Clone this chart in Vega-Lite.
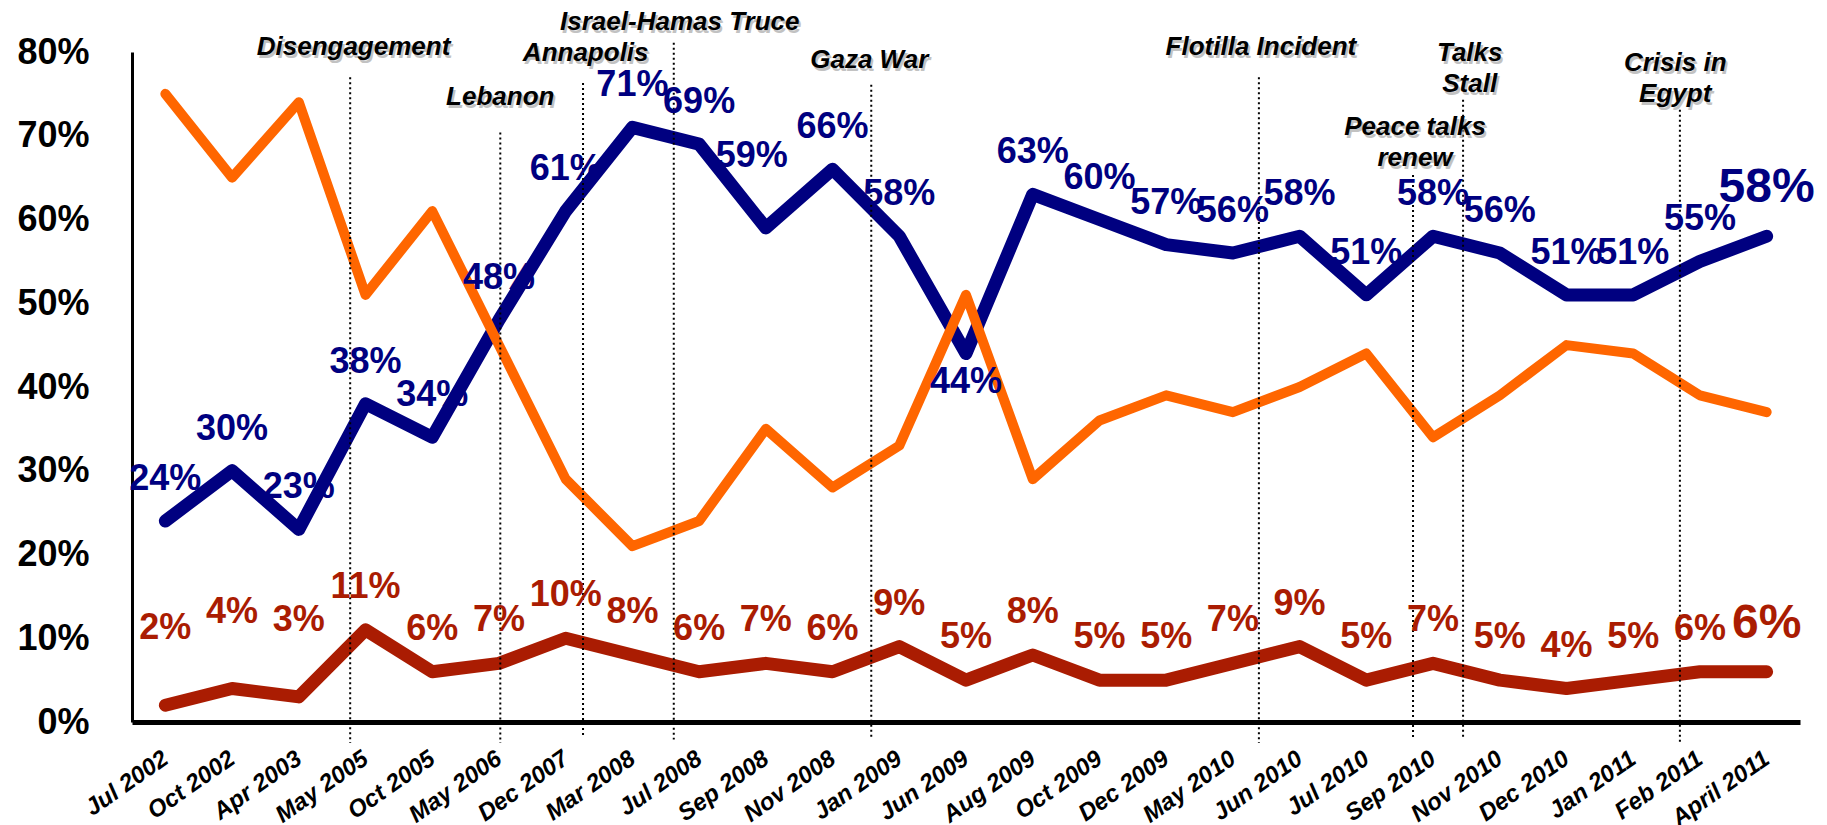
{
  "$schema": "https://vega.github.io/schema/vega-lite/v6.json",
  "width": 1668,
  "height": 670,
  "autosize": {"type": "none"},
  "padding": {"left": 132, "top": 52, "right": 27, "bottom": 103},
  "background": "white",
  "config": {
    "view": {"stroke": null},
    "font": "Liberation Sans",
    "axisY": {
      "labelFont": "Liberation Sans",
      "labelFontSize": 36,
      "labelFontWeight": "bold",
      "labelColor": "black",
      "labelPadding": 43,
      "ticks": false,
      "grid": false,
      "domain": true,
      "domainColor": "black",
      "domainWidth": 3
    }
  },
  "datasets": {
    "poll": [
      {"i": 0, "date": "Jul 2002", "support": 0.24, "oppose": 0.75, "dk": 0.02},
      {"i": 1, "date": "Oct 2002", "support": 0.30, "oppose": 0.65, "dk": 0.04},
      {"i": 2, "date": "Apr 2003", "support": 0.23, "oppose": 0.74, "dk": 0.03},
      {"i": 3, "date": "May 2005", "support": 0.38, "oppose": 0.51, "dk": 0.11},
      {"i": 4, "date": "Oct 2005", "support": 0.34, "oppose": 0.61, "dk": 0.06},
      {"i": 5, "date": "May 2006", "support": 0.48, "oppose": 0.45, "dk": 0.07},
      {"i": 6, "date": "Dec 2007", "support": 0.61, "oppose": 0.29, "dk": 0.10},
      {"i": 7, "date": "Mar 2008", "support": 0.71, "oppose": 0.21, "dk": 0.08},
      {"i": 8, "date": "Jul 2008", "support": 0.69, "oppose": 0.24, "dk": 0.06},
      {"i": 9, "date": "Sep 2008", "support": 0.59, "oppose": 0.35, "dk": 0.07},
      {"i": 10, "date": "Nov 2008", "support": 0.66, "oppose": 0.28, "dk": 0.06},
      {"i": 11, "date": "Jan 2009", "support": 0.58, "oppose": 0.33, "dk": 0.09},
      {"i": 12, "date": "Jun 2009", "support": 0.44, "oppose": 0.51, "dk": 0.05},
      {"i": 13, "date": "Aug 2009", "support": 0.63, "oppose": 0.29, "dk": 0.08},
      {"i": 14, "date": "Oct 2009", "support": 0.60, "oppose": 0.36, "dk": 0.05},
      {"i": 15, "date": "Dec 2009", "support": 0.57, "oppose": 0.39, "dk": 0.05},
      {"i": 16, "date": "May 2010", "support": 0.56, "oppose": 0.37, "dk": 0.07},
      {"i": 17, "date": "Jun 2010", "support": 0.58, "oppose": 0.40, "dk": 0.09},
      {"i": 18, "date": "Jul 2010", "support": 0.51, "oppose": 0.44, "dk": 0.05},
      {"i": 19, "date": "Sep 2010", "support": 0.58, "oppose": 0.34, "dk": 0.07},
      {"i": 20, "date": "Nov 2010", "support": 0.56, "oppose": 0.39, "dk": 0.05},
      {"i": 21, "date": "Dec 2010", "support": 0.51, "oppose": 0.45, "dk": 0.04},
      {"i": 22, "date": "Jan 2011", "support": 0.51, "oppose": 0.44, "dk": 0.05},
      {"i": 23, "date": "Feb 2011", "support": 0.55, "oppose": 0.39, "dk": 0.06},
      {"i": 24, "date": "April 2011", "support": 0.58, "oppose": 0.37, "dk": 0.06}
    ],
    "events": [
      {"event": "Disengagement", "i": 2.77, "top": 0.770, "bottom": -0.025},
      {"event": "Lebanon", "i": 5.02, "top": 0.704, "bottom": -0.025},
      {"event": "Annapolis", "i": 6.26, "top": 0.763, "bottom": -0.018},
      {"event": "Israel-Hamas Truce", "i": 7.62, "top": 0.811, "bottom": -0.021},
      {"event": "Gaza War", "i": 10.58, "top": 0.761, "bottom": -0.021},
      {"event": "Flotilla Incident", "i": 16.39, "top": 0.770, "bottom": -0.025},
      {"event": "Peace talks renew", "i": 18.70, "top": 0.653, "bottom": -0.020},
      {"event": "Talks Stall", "i": 19.45, "top": 0.743, "bottom": -0.018},
      {"event": "Crisis in Egypt", "i": 22.70, "top": 0.731, "bottom": -0.025}
    ],
    "notes": [
      {"note": "Disengagement", "i": 2.82, "v": 0.806},
      {"note": "Lebanon", "i": 5.02, "v": 0.746},
      {"note": "Israel-Hamas Truce", "i": 7.71, "v": 0.836},
      {"note": "Annapolis", "i": 6.30, "v": 0.799},
      {"note": "Gaza War", "i": 10.55, "v": 0.790},
      {"note": "Flotilla Incident", "i": 16.42, "v": 0.806},
      {"note": "Talks\nStall", "i": 19.55, "v": 0.799},
      {"note": "Peace talks\nrenew", "i": 18.73, "v": 0.710},
      {"note": "Crisis in\nEgypt", "i": 22.63, "v": 0.787}
    ]
  },
  "encoding": {
    "x": {
      "field": "i",
      "type": "quantitative",
      "scale": {"domain": [-0.5, 24.5], "nice": false, "zero": false},
      "axis": {
        "values": [0,1,2,3,4,5,6,7,8,9,10,11,12,13,14,15,16,17,18,19,20,21,22,23,24],
        "labelExpr": "['Jul 2002','Oct 2002','Apr 2003','May 2005','Oct 2005','May 2006','Dec 2007','Mar 2008','Jul 2008','Sep 2008','Nov 2008','Jan 2009','Jun 2009','Aug 2009','Oct 2009','Dec 2009','May 2010','Jun 2010','Jul 2010','Sep 2010','Nov 2010','Dec 2010','Jan 2011','Feb 2011','April 2011'][datum.value]",
        "labelAngle": -35,
        "labelAlign": "right",
        "labelBaseline": "middle",
        "labelFont": "Liberation Sans",
        "labelFontSize": 24,
        "labelFontWeight": "bold",
        "labelFontStyle": "italic",
        "labelColor": "black",
        "labelPadding": 34,
        "labelOverlap": false,
        "labelBound": false,
        "labelFlush": false,
        "ticks": false,
        "grid": false,
        "domainColor": "black",
        "domainWidth": 5,
        "title": null
      }
    },
    "y": {
      "field": "support",
      "type": "quantitative",
      "scale": {"domain": [0, 0.8], "nice": false, "zero": true},
      "axis": {"values": [0, 0.1, 0.2, 0.3, 0.4, 0.5, 0.6, 0.7, 0.8], "format": ".0%", "title": null}
    }
  },
  "layer": [
    {
      "data": {"name": "poll"},
      "mark": {"type": "line", "color": "#000080", "strokeWidth": 13, "strokeCap": "round", "strokeJoin": "round"}
    },
    {
      "data": {"name": "poll"},
      "mark": {"type": "line", "color": "#FF6600", "strokeWidth": 10, "strokeCap": "round", "strokeJoin": "round"},
      "encoding": {
        "y": {"field": "oppose", "type": "quantitative", "scale": {"domain": [0, 0.8], "nice": false, "zero": true}, "axis": {"values": [0, 0.1, 0.2, 0.3, 0.4, 0.5, 0.6, 0.7, 0.8], "format": ".0%", "title": null}}
      }
    },
    {
      "data": {"name": "poll"},
      "mark": {"type": "line", "color": "#AA1C02", "strokeWidth": 13, "strokeCap": "round", "strokeJoin": "round"},
      "encoding": {
        "y": {"field": "dk", "type": "quantitative", "scale": {"domain": [0, 0.8], "nice": false, "zero": true}, "axis": {"values": [0, 0.1, 0.2, 0.3, 0.4, 0.5, 0.6, 0.7, 0.8], "format": ".0%", "title": null}}
      }
    },
    {
      "data": {"name": "events"},
      "mark": {"type": "rule", "color": "black", "strokeWidth": 2, "strokeDash": [2, 3]},
      "encoding": {
        "y": {"field": "top", "type": "quantitative", "scale": {"domain": [0, 0.8], "nice": false, "zero": true}, "axis": {"values": [0, 0.1, 0.2, 0.3, 0.4, 0.5, 0.6, 0.7, 0.8], "format": ".0%", "title": null}},
        "y2": {"field": "bottom"}
      }
    },
    {
      "data": {"name": "poll"},
      "transform": [{"filter": "datum.i != 12 && datum.i != 24 && datum.i != 9"}],
      "mark": {"type": "text", "color": "#000080", "font": "Liberation Sans", "fontSize": 36, "fontWeight": "bold", "baseline": "middle", "dy": -42},
      "encoding": {
        "text": {"field": "support", "type": "quantitative", "format": ".0%"}
      }
    },
    {
      "data": {"name": "poll"},
      "transform": [{"filter": "datum.i == 9"}],
      "mark": {"type": "text", "color": "#000080", "font": "Liberation Sans", "fontSize": 36, "fontWeight": "bold", "baseline": "middle", "dx": -14, "dy": -72},
      "encoding": {
        "text": {"field": "support", "type": "quantitative", "format": ".0%"}
      }
    },
    {
      "data": {"name": "poll"},
      "transform": [{"filter": "datum.i == 12"}],
      "mark": {"type": "text", "color": "#000080", "font": "Liberation Sans", "fontSize": 36, "fontWeight": "bold", "baseline": "middle", "dy": 28},
      "encoding": {
        "text": {"field": "support", "type": "quantitative", "format": ".0%"}
      }
    },
    {
      "data": {"name": "poll"},
      "transform": [{"filter": "datum.i == 24"}],
      "mark": {"type": "text", "color": "#000080", "font": "Liberation Sans", "fontSize": 48, "fontWeight": "bold", "baseline": "middle", "dy": -48},
      "encoding": {
        "text": {"field": "support", "type": "quantitative", "format": ".0%"}
      }
    },
    {
      "data": {"name": "poll"},
      "transform": [{"filter": "datum.i > 2 && datum.i != 24"}],
      "mark": {"type": "text", "color": "#AA1C02", "font": "Liberation Sans", "fontSize": 36, "fontWeight": "bold", "baseline": "middle", "dy": -43},
      "encoding": {
        "y": {"field": "dk", "type": "quantitative", "scale": {"domain": [0, 0.8], "nice": false, "zero": true}, "axis": {"values": [0, 0.1, 0.2, 0.3, 0.4, 0.5, 0.6, 0.7, 0.8], "format": ".0%", "title": null}},
        "text": {"field": "dk", "type": "quantitative", "format": ".0%"}
      }
    },
    {
      "data": {"name": "poll"},
      "transform": [{"filter": "datum.i <= 2"}],
      "mark": {"type": "text", "color": "#AA1C02", "font": "Liberation Sans", "fontSize": 36, "fontWeight": "bold", "baseline": "middle", "dy": -77},
      "encoding": {
        "y": {"field": "dk", "type": "quantitative", "scale": {"domain": [0, 0.8], "nice": false, "zero": true}, "axis": {"values": [0, 0.1, 0.2, 0.3, 0.4, 0.5, 0.6, 0.7, 0.8], "format": ".0%", "title": null}},
        "text": {"field": "dk", "type": "quantitative", "format": ".0%"}
      }
    },
    {
      "data": {"name": "poll"},
      "transform": [{"filter": "datum.i == 24"}],
      "mark": {"type": "text", "color": "#AA1C02", "font": "Liberation Sans", "fontSize": 48, "fontWeight": "bold", "baseline": "middle", "dy": -48},
      "encoding": {
        "y": {"field": "dk", "type": "quantitative", "scale": {"domain": [0, 0.8], "nice": false, "zero": true}, "axis": {"values": [0, 0.1, 0.2, 0.3, 0.4, 0.5, 0.6, 0.7, 0.8], "format": ".0%", "title": null}},
        "text": {"field": "dk", "type": "quantitative", "format": ".0%"}
      }
    },
    {
      "data": {"name": "notes"},
      "mark": {"type": "text", "color": "#9a9a9a", "opacity": 0.6, "font": "Liberation Sans", "fontSize": 26, "fontWeight": "bold", "fontStyle": "italic", "baseline": "middle", "lineBreak": "\n", "lineHeight": 31, "dx": 2, "dy": 3},
      "encoding": {
        "y": {"field": "v", "type": "quantitative", "scale": {"domain": [0, 0.8], "nice": false, "zero": true}, "axis": {"values": [0, 0.1, 0.2, 0.3, 0.4, 0.5, 0.6, 0.7, 0.8], "format": ".0%", "title": null}},
        "text": {"field": "note", "type": "nominal"}
      }
    },
    {
      "data": {"name": "notes"},
      "mark": {"type": "text", "color": "black", "font": "Liberation Sans", "fontSize": 26, "fontWeight": "bold", "fontStyle": "italic", "baseline": "middle", "lineBreak": "\n", "lineHeight": 31},
      "encoding": {
        "y": {"field": "v", "type": "quantitative", "scale": {"domain": [0, 0.8], "nice": false, "zero": true}, "axis": {"values": [0, 0.1, 0.2, 0.3, 0.4, 0.5, 0.6, 0.7, 0.8], "format": ".0%", "title": null}},
        "text": {"field": "note", "type": "nominal"}
      }
    }
  ]
}
